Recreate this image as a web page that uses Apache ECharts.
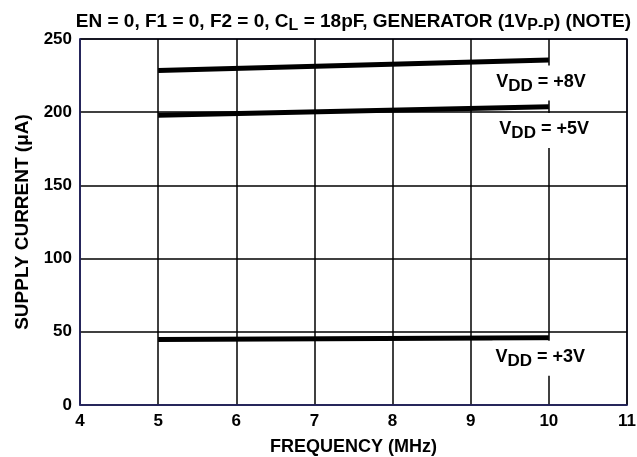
<!DOCTYPE html>
<html>
<head>
<meta charset="utf-8">
<script src="https://cdn.jsdelivr.net/npm/echarts@6/dist/echarts.min.js"></script>
<style>
  html, body { margin: 0; padding: 0; background: #fff; }
  #chart { width: 637px; height: 457px; }
</style>
</head>
<body>
<div id="chart"></div>
<script>
// frequency (MHz) at the two ends of every curve
const freq = [5, 10];
// supply current (uA) per supply voltage
const vdd8 = [228.5, 235.7];
const vdd5 = [198, 203.8];
const vdd3 = [44.8, 46];

// curve annotations (data units)
const noteText = ['+8V', '+5V', '+3V'];
const noteX = [9.9, 9.94, 9.89];
const noteY = [220, 187.5, 32];

const xTicks = [4, 5, 6, 7, 8, 9, 10, 11];
const yTicks = [0, 50, 100, 150, 200, 250];

const font = 'Liberation Sans, Arial, sans-serif';
const ink = '#000';
const frame = '#2b2b6e';

function pairs(ys) {
  return freq.map((f, i) => [f, ys[i]]);
}

function curve(name, ys) {
  return {
    name: name,
    type: 'line',
    data: pairs(ys),
    symbol: 'none',
    lineStyle: { color: ink, width: 5 },
    silent: true,
    z: 3
  };
}

const notes = {
  name: 'notes',
  type: 'scatter',
  data: [],
  silent: true,
  z: 5,
  markPoint: {
    symbol: 'rect',
    symbolSize: 0,
    silent: true,
    data: noteText.map((t, i) => ({
      coord: [noteX[i], noteY[i]],
      value: t
    })),
    label: {
      show: true,
      position: 'inside',
      formatter: p => 'V{sub|DD} = ' + p.value,
      color: ink,
      fontFamily: font,
      fontWeight: 'bold',
      fontSize: 18,
      backgroundColor: '#fff',
      padding: [4, 3, 6, 3],
      rich: {
        sub: {
          fontFamily: font,
          fontWeight: 'bold',
          fontSize: 17,
          color: ink,
          verticalAlign: 'bottom',
          padding: [8, 0, 0, 0]
        }
      }
    }
  }
};

const chart = echarts.init(document.getElementById('chart'));
chart.setOption({
  animation: false,
  backgroundColor: '#fff',
  title: {
    text: 'EN = 0, F1 = 0, F2 = 0, C{sub|L} = 18pF, GENERATOR (1V{sub|P-P}) (NOTE)',
    right: 1,
    top: 4,
    textStyle: {
      fontFamily: font,
      fontWeight: 'bold',
      fontSize: 19,
      color: ink,
      rich: {
        sub: {
          fontFamily: font,
          fontWeight: 'bold',
          fontSize: 16,
          color: ink,
          padding: [9, 0, 0, 0]
        }
      }
    }
  },
  grid: {
    left: 80,
    right: 10,
    top: 39,
    bottom: 52,
    outerBoundsMode: 'none',
    show: true,
    borderColor: frame,
    borderWidth: 1.5,
    backgroundColor: '#fff'
  },
  xAxis: {
    type: 'value',
    min: xTicks[0],
    max: xTicks[xTicks.length - 1],
    interval: 1,
    name: 'FREQUENCY (MHz)',
    nameLocation: 'middle',
    nameGap: 33,
    nameTextStyle: { fontFamily: font, fontWeight: 'bold', fontSize: 18, color: ink },
    axisLine: { lineStyle: { color: frame, width: 1.5 } },
    axisTick: { show: false },
    axisLabel: { fontFamily: font, fontWeight: 'bold', fontSize: 17, color: ink, margin: 8 },
    splitLine: { show: true, lineStyle: { color: ink, width: 1.5 } }
  },
  yAxis: {
    type: 'value',
    min: yTicks[0],
    max: yTicks[yTicks.length - 1],
    interval: 50,
    name: 'SUPPLY CURRENT (\u03bcA)',
    nameLocation: 'middle',
    nameGap: 46,
    nameTextStyle: { fontFamily: font, fontWeight: 'bold', fontSize: 19, color: ink },
    axisLine: { lineStyle: { color: frame, width: 1.5 } },
    axisTick: { show: false },
    axisLabel: { fontFamily: font, fontWeight: 'bold', fontSize: 17, color: ink, margin: 8 },
    splitLine: { show: true, lineStyle: { color: ink, width: 1.5 } }
  },
  series: [
    curve('VDD = +8V', vdd8),
    curve('VDD = +5V', vdd5),
    curve('VDD = +3V', vdd3),
    notes
  ]
});
</script>
</body>
</html>
